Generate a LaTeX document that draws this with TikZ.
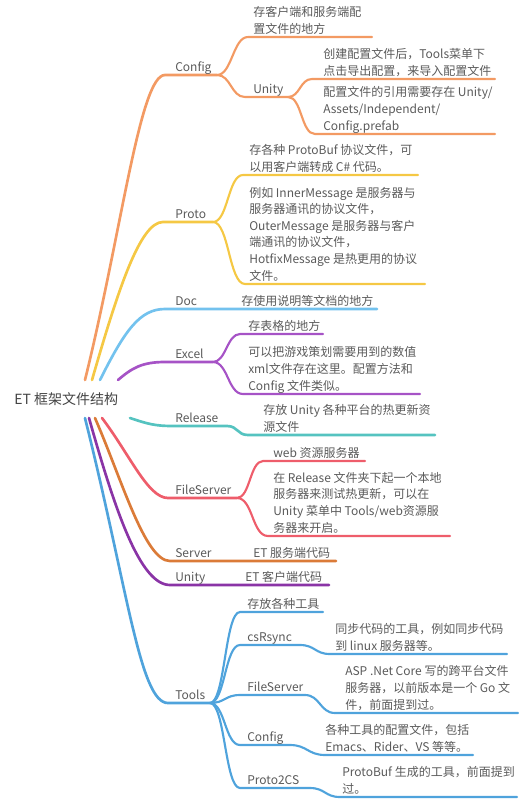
\documentclass[tikz,border=0pt]{standalone}
\usepackage{fontspec}
\setmainfont{Noto Sans CJK SC}
\usepackage{tikz}
\usetikzlibrary{calc}

\definecolor{txtgray}{HTML}{5A5A5A}
\definecolor{rootgray}{HTML}{444444}
\definecolor{cfgc}{HTML}{F39A63}
\definecolor{protoc}{HTML}{F5C844}
\definecolor{docc}{HTML}{73C2EE}
\definecolor{excelc}{HTML}{A653C6}
\definecolor{relc}{HTML}{55C3C0}
\definecolor{fsc}{HTML}{EE5D6B}
\definecolor{srvc}{HTML}{DB7B38}
\definecolor{unic}{HTML}{8A34A6}
\definecolor{toolc}{HTML}{4FA3DC}

\tikzset{
  lbl/.style={font=\fontsize{9}{12.4}\selectfont,text=txtgray,inner sep=0pt,anchor=base west},
  note/.style={lbl,align=left},
  branch/.style={line width=2pt,line cap=round},
  twig/.style={line width=1.6pt,line cap=round},
}

\begin{document}
\begin{tikzpicture}[x=0.75pt,y=-0.75pt]
\useasboundingbox (0,0) rectangle (520,800);
\node[lbl,font=\fontsize{10.5}{12}\selectfont,text=rootgray] (root) at (14,404) {ET 框架文件结构};

% Config
\coordinate (cfg0) at (85,380); \coordinate (cfg1) at (165,75); \coordinate (cfg2) at (217,75);
\coordinate (cfga1) at (248,37); \coordinate (cfga2) at (372,37);
\coordinate (cfgu1) at (245,97); \coordinate (cfgu2) at (288,97);
\coordinate (cfgb1) at (312,79); \coordinate (cfgb2) at (495,79);
\coordinate (cfgc1) at (315,134); \coordinate (cfgc2) at (495,134);
\draw[branch,cfgc] (cfg0) .. controls (122,230) and (140,75) .. (cfg1) -- (cfg2);
\draw[twig,cfgc] (cfg2) .. controls +(15,0) and +(-15,0) .. (cfga1) -- (cfga2);
\draw[twig,cfgc] (cfg2) .. controls +(14,0) and +(-14,0) .. (cfgu1) -- (cfgu2);
\draw[twig,cfgc] (cfgu2) .. controls +(12,0) and +(-12,0) .. (cfgb1) -- (cfgb2);
\draw[twig,cfgc] (cfgu2) .. controls +(14,0) and +(-14,0) .. (cfgc1) -- (cfgc2);
\node[lbl] (cfg) at (175,71) {Config};
\node[note] (cfg-a) at (253,33) {存客户端和服务端配\\置文件的地方};
\node[lbl] (cfg-unity) at (253,93) {Unity};
\node[note] (cfg-unity-a) at (323,75) {创建配置文件后，Tools菜单下\\点击导出配置，来导入配置文件};
\node[note] (cfg-unity-b) at (323,130) {配置文件的引用需要存在 Unity/\\Assets/Independent/\\Config.prefab};

% Proto
\coordinate (pro0) at (92,380); \coordinate (pro1) at (163,222); \coordinate (pro2) at (213,222);
\coordinate (proa1) at (243,175); \coordinate (proa2) at (418,175);
\coordinate (prob1) at (245,284); \coordinate (prob2) at (425,284);
\draw[branch,protoc] (pro0) .. controls (118,290) and (140,222) .. (pro1) -- (pro2);
\draw[twig,protoc] (pro2) .. controls +(15,0) and +(-15,0) .. (proa1) -- (proa2);
\draw[twig,protoc] (pro2) .. controls +(16,0) and +(-16,0) .. (prob1) -- (prob2);
\node[lbl] (proto) at (175,218) {Proto};
\node[note] (proto-a) at (249,171) {存各种 ProtoBuf 协议文件，可\\以用客户端转成 C\# 代码。};
\node[note] (proto-b) at (249,280) {例如 InnerMessage 是服务器与\\服务器通讯的协议文件，\\OuterMessage 是服务器与客户\\端通讯的协议文件，\\HotfixMessage 是热更用的协议\\文件。};

% Doc
\coordinate (doc0) at (100,380); \coordinate (doc1) at (165,309); \coordinate (doc2) at (377,309);
\draw[branch,docc] (doc0) .. controls (125,330) and (140,309) .. (doc1) -- (doc2);
\node[lbl] (doc) at (175,305) {Doc};
\node[lbl] (doc-a) at (241,305) {存使用说明等文档的地方};

% Excel
\coordinate (exc0) at (118,380); \coordinate (exc1) at (165,362); \coordinate (exc2) at (213,362);
\coordinate (exca1) at (240,334); \coordinate (exca2) at (323,334);
\coordinate (excb1) at (243,394); \coordinate (excb2) at (420,394);
\draw[branch,excelc] (exc0) .. controls (132,368) and (142,362) .. (exc1) -- (exc2);
\draw[twig,excelc] (exc2) .. controls +(13,0) and +(-13,0) .. (exca1) -- (exca2);
\draw[twig,excelc] (exc2) .. controls +(15,0) and +(-15,0) .. (excb1) -- (excb2);
\node[lbl] (excel) at (175,358) {Excel};
\node[note] (excel-a) at (248,330) {存表格的地方};
\node[note] (excel-b) at (248,390) {可以把游戏策划需要用到的数值\\xml文件存在这里。配置方法和\\Config 文件类似。};

% Release
\coordinate (rel0) at (130,418); \coordinate (rel1) at (173,426); \coordinate (rel2) at (227,426);
\coordinate (rel3) at (248,435); \coordinate (rel4) at (435,435);
\draw[branch,relc] (rel0) .. controls (148,424) and (155,426) .. (rel1) -- (rel2)
  .. controls +(11,0) and +(-11,0) .. (rel3) -- (rel4);
\node[lbl] (release) at (175,422) {Release};
\node[note] (release-a) at (263,431) {存放 Unity 各种平台的热更新资\\源文件};

% FileServer
\coordinate (fs0) at (102,418); \coordinate (fs1) at (168,498); \coordinate (fs2) at (237,498);
\coordinate (fsa1) at (263,461); \coordinate (fsa2) at (365,461);
\coordinate (fsb1) at (268,536); \coordinate (fsb2) at (450,536);
\draw[branch,fsc] (fs0) .. controls (130,455) and (148,498) .. (fs1) -- (fs2);
\draw[twig,fsc] (fs2) .. controls +(13,0) and +(-13,0) .. (fsa1) -- (fsa2);
\draw[twig,fsc] (fs2) .. controls +(16,0) and +(-16,0) .. (fsb1) -- (fsb2);
\node[lbl] (fs) at (175,494) {FileServer};
\node[note] (fs-a) at (273,457) {web 资源服务器};
\node[note] (fs-b) at (273,532) {在 Release 文件夹下起一个本地\\服务器来测试热更新，可以在\\Unity 菜单中 Tools/web资源服\\务器来开启。};

% Server, Unity
\coordinate (srv0) at (95,418); \coordinate (srv1) at (170,561); \coordinate (srv2) at (336,561);
\draw[branch,srvc] (srv0) .. controls (122,480) and (145,561) .. (srv1) -- (srv2);
\node[lbl] (server) at (175,557) {Server};
\node[lbl] (server-a) at (253,557) {ET 服务端代码};
\coordinate (uni0) at (89,418); \coordinate (uni1) at (170,585); \coordinate (uni2) at (329,585);
\draw[branch,unic] (uni0) .. controls (115,510) and (140,585) .. (uni1) -- (uni2);
\node[lbl] (unity) at (175,581) {Unity};
\node[lbl] (unity-a) at (245,581) {ET 客户端代码};

% Tools
\coordinate (tl0) at (85,418); \coordinate (tl1) at (168,703); \coordinate (tl2) at (210,703);
\draw[branch,toolc] (tl0) .. controls (128,590) and (140,703) .. (tl1) -- (tl2);
\coordinate (tla1) at (240,612); \coordinate (tla2) at (323,612);
\coordinate (rs1) at (240,645); \coordinate (rs2) at (300,645); \coordinate (rs3) at (330,654); \coordinate (rs4) at (507,654);
\coordinate (tfs1) at (240,695); \coordinate (tfs2) at (305,695); \coordinate (tfs3) at (335,713); \coordinate (tfs4) at (518,713);
\coordinate (tcf1) at (240,745); \coordinate (tcf2) at (290,745); \coordinate (tcf3) at (325,755); \coordinate (tcf4) at (473,755);
\coordinate (pcs1) at (240,788); \coordinate (pcs2) at (310,788); \coordinate (pcs3) at (340,797); \coordinate (pcs4) at (517,797);
\draw[twig,toolc] (tl2) .. controls +(15,0) and +(-15,0) .. (tla1) -- (tla2);
\draw[twig,toolc] (tl2) .. controls +(15,0) and +(-15,0) .. (rs1) -- (rs2) .. controls +(15,0) and +(-15,0) .. (rs3) -- (rs4);
\draw[twig,toolc] (tl2) .. controls +(15,0) and +(-15,0) .. (tfs1) -- (tfs2) .. controls +(15,0) and +(-15,0) .. (tfs3) -- (tfs4);
\draw[twig,toolc] (tl2) .. controls +(15,0) and +(-15,0) .. (tcf1) -- (tcf2) .. controls +(17,0) and +(-17,0) .. (tcf3) -- (tcf4);
\draw[twig,toolc] (tl2) .. controls +(15,0) and +(-15,0) .. (pcs1) -- (pcs2) .. controls +(15,0) and +(-15,0) .. (pcs3) -- (pcs4);
\node[lbl] (tools) at (175,699) {Tools};
\node[note] (tools-a) at (247,608) {存放各种工具};
\node[lbl] (rsync) at (247,641) {csRsync};
\node[note] (rsync-a) at (335,650) {同步代码的工具，例如同步代码\\到 linux 服务器等。};
\node[lbl] (tfs) at (247,691) {FileServer};
\node[note] (tfs-a) at (345,709) {ASP .Net Core 写的跨平台文件\\服务器，以前版本是一个 Go 文\\件，前面提到过。};
\node[lbl] (tcfg) at (247,741) {Config};
\node[note] (tcfg-a) at (325,751) {各种工具的配置文件，包括\\Emacs、Rider、VS 等等。};
\node[lbl] (p2cs) at (247,784) {Proto2CS};
\node[note] (p2cs-a) at (342,793) {ProtoBuf 生成的工具，前面提到\\过。};
\end{tikzpicture}
\end{document}
